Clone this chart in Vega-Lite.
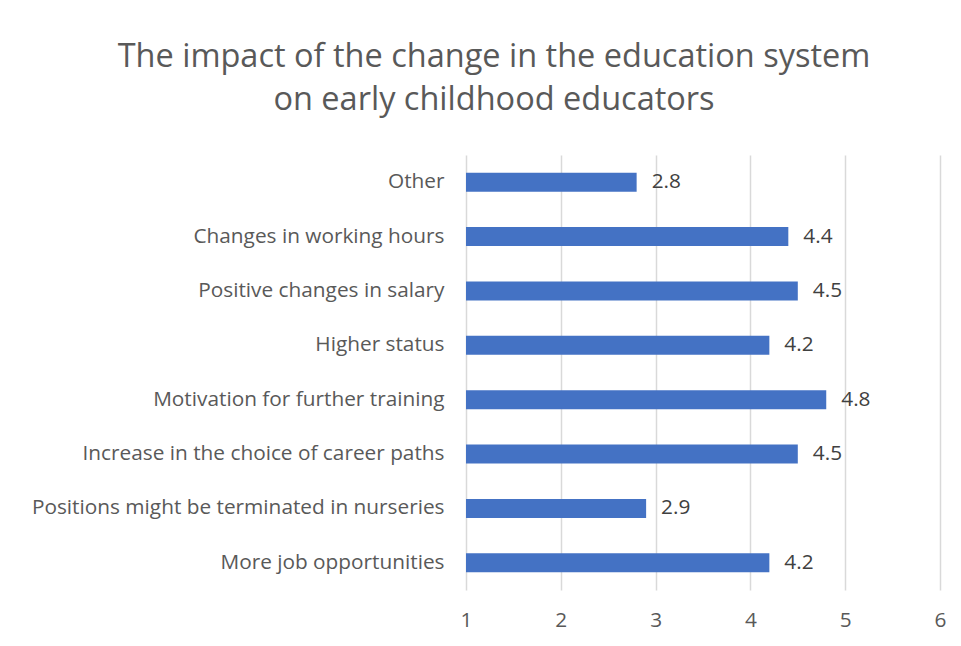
{
  "$schema": "https://vega.github.io/schema/vega-lite/v6.json",
  "width": 474,
  "height": 435,
  "autosize": {"type": "none"},
  "padding": {"left": 466, "top": 155, "right": 21, "bottom": 56},
  "background": "white",
  "title": {
    "text": ["The impact of the change in the education system", "on early childhood educators"],
    "anchor": "middle",
    "frame": "group",
    "dx": -209,
    "offset": 39,
    "fontSize": 32.5,
    "lineHeight": 43,
    "font": "Open Sans",
    "fontWeight": "normal",
    "color": "#595959"
  },
  "config": {
    "view": {"stroke": null},
    "font": "Open Sans"
  },
  "data": {
    "values": [
      {"category": "Other", "value": 2.8},
      {"category": "Changes in working hours", "value": 4.4},
      {"category": "Positive changes in salary", "value": 4.5},
      {"category": "Higher status", "value": 4.2},
      {"category": "Motivation for further training", "value": 4.8},
      {"category": "Increase in the choice of career paths", "value": 4.5},
      {"category": "Positions might be terminated in nurseries", "value": 2.9},
      {"category": "More job opportunities", "value": 4.2}
    ]
  },
  "encoding": {
    "y": {
      "field": "category",
      "type": "nominal",
      "sort": null,
      "scale": {"paddingInner": 0.65, "paddingOuter": 0.325},
      "axis": {
        "title": null,
        "domain": false,
        "ticks": false,
        "labelPadding": 22,
        "labelFontSize": 20.8,
        "labelColor": "#595959",
        "labelFont": "Open Sans",
        "labelLimit": 500
      }
    },
    "x": {
      "field": "value",
      "type": "quantitative",
      "scale": {"domain": [1, 6], "nice": false, "zero": false},
      "axis": {
        "title": null,
        "values": [1, 2, 3, 4, 5, 6],
        "domain": false,
        "ticks": false,
        "grid": true,
        "gridColor": "#d9d9d9",
        "gridWidth": 1.5,
        "labelPadding": 20,
        "labelFontSize": 20.8,
        "labelColor": "#595959",
        "labelFont": "Open Sans",
        "labelFlush": false
      }
    }
  },
  "layer": [
    {
      "mark": {"type": "bar", "color": "#4472C4"},
      "encoding": {"x2": {"datum": 1}}
    },
    {
      "mark": {"type": "text", "align": "left", "dx": 15, "fontSize": 20.8, "color": "#404040", "font": "Open Sans"},
      "encoding": {"text": {"field": "value", "type": "quantitative", "format": ".1f"}}
    }
  ]
}
